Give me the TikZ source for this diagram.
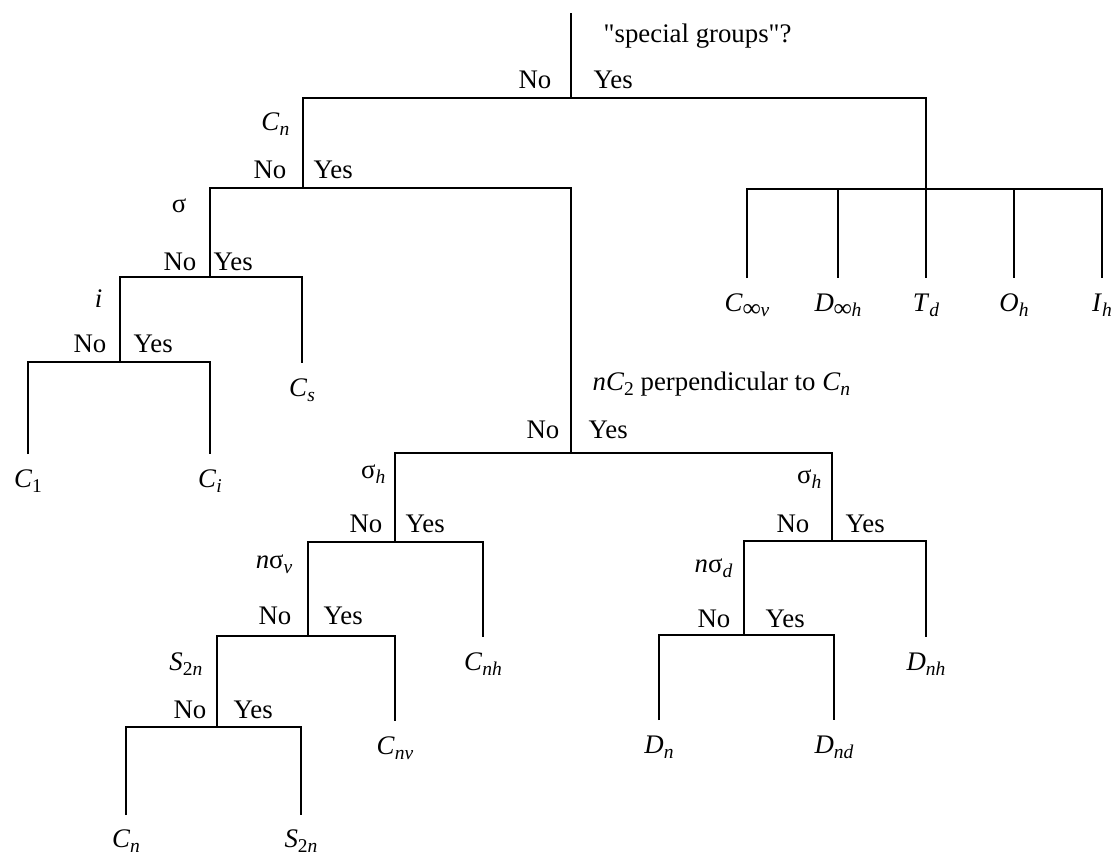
\documentclass[tikz,border=0pt]{standalone}
\usepackage{fontspec}
\setmainfont{Liberation Serif}[Ligatures=TeXOff]
\newcommand\subx[1]{\raisebox{-5pt}{\fontsize{19.5}{19.5}\selectfont #1}}
\newcommand\infsym{{\fontsize{25}{25}\selectfont\textbf{∞}}}
\begin{document}
\begin{tikzpicture}[x=1pt,y=-1pt,line width=1.4pt,line join=miter,
  font=\fontsize{26.8}{30}\selectfont,
  lbl/.style={inner sep=0pt,anchor=base},
  qlbl/.style={inner sep=0pt,anchor=base east},
  nolbl/.style={inner sep=0pt,anchor=base east},
  yeslbl/.style={inner sep=0pt,anchor=base west},
  textlbl/.style={inner sep=0pt,anchor=base west}]
\useasboundingbox (0,0) rectangle (1115,852);
% junction coordinates
\coordinate (top) at (571,13);
\coordinate (r) at (571,98);
\coordinate (rL) at (303,98);
\coordinate (rR) at (926,98);
\coordinate (cn) at (303,188);
\coordinate (cnL) at (210,188);
\coordinate (cnR) at (571,188);
\coordinate (sg) at (210,277);
\coordinate (sgL) at (120,277);
\coordinate (sgR) at (302,277);
\coordinate (eCs) at (302,363);
\coordinate (ii) at (120,362);
\coordinate (iiL) at (28,362);
\coordinate (iiR) at (210,362);
\coordinate (eC1) at (28,454);
\coordinate (eCi) at (210,454);
\coordinate (nc) at (571,453);
\coordinate (ncL) at (395,453);
\coordinate (ncR) at (832,453);
\coordinate (sh1) at (395,542);
\coordinate (sh1L) at (308,542);
\coordinate (sh1R) at (483,542);
\coordinate (eCnh) at (483,637);
\coordinate (nsv) at (308,636);
\coordinate (nsvL) at (217,636);
\coordinate (nsvR) at (395,636);
\coordinate (eCnv) at (395,721);
\coordinate (s2) at (217,727);
\coordinate (s2L) at (126,727);
\coordinate (s2R) at (301,727);
\coordinate (eCn) at (126,815);
\coordinate (eS2n) at (301,815);
\coordinate (sh2) at (832,541);
\coordinate (sh2L) at (744,541);
\coordinate (sh2R) at (926,541);
\coordinate (eDnh) at (926,637);
\coordinate (nsd) at (744,635);
\coordinate (nsdL) at (659,635);
\coordinate (nsdR) at (834,635);
\coordinate (eDn) at (659,720);
\coordinate (eDnd) at (834,720);
\coordinate (sp) at (926,189);
\coordinate (spA) at (747,189);
\coordinate (spB) at (838,189);
\coordinate (spD) at (1014,189);
\coordinate (spE) at (1102,189);
\coordinate (eA) at (747,278);
\coordinate (eB) at (838,278);
\coordinate (eC) at (926,278);
\coordinate (eD) at (1014,278);
\coordinate (eE) at (1102,278);
% connectors
\draw (top) -- (r);
\draw (cn) -- (rL) -- (rR) -- (sp);
\draw (sg) -- (cnL) -- (cnR) -- (nc);
\draw (ii) -- (sgL) -- (sgR) -- (eCs);
\draw (eC1) -- (iiL) -- (iiR) -- (eCi);
\draw (sh1) -- (ncL) -- (ncR) -- (sh2);
\draw (nsv) -- (sh1L) -- (sh1R) -- (eCnh);
\draw (s2) -- (nsvL) -- (nsvR) -- (eCnv);
\draw (eCn) -- (s2L) -- (s2R) -- (eS2n);
\draw (nsd) -- (sh2L) -- (sh2R) -- (eDnh);
\draw (eDn) -- (nsdL) -- (nsdR) -- (eDnd);
\draw (eA) -- (spA) -- (spE) -- (eE);
\draw (spB) -- (eB);
\draw (sp) -- (eC);
\draw (spD) -- (eD);
% question labels
\node[textlbl] (qsg) at (603,42) {"special groups"?};
\node[qlbl] (qcn) at (290,130) {\textit{C}\subx{\textit{n}}};
\node[qlbl] (qsig) at (187,212) {σ};
\node[qlbl] (qi) at (103,307) {\textit{i}};
\node[textlbl] (qnc) at (592,390) {\textit{nC}\subx{2} perpendicular to \textit{C}\subx{\textit{n}}};
\node[qlbl] (qsh1) at (386,478) {σ\subx{\textit{h}}};
\node[qlbl] (qnsv) at (293,568) {\textit{n}σ\subx{\textit{v}}};
\node[qlbl] (qs2) at (203,670) {\textit{S}\subx{2\textit{n}}};
\node[qlbl] (qsh2) at (822,483) {σ\subx{\textit{h}}};
\node[qlbl] (qnsd) at (733,572) {\textit{n}σ\subx{\textit{d}}};
% No / Yes labels
\node[nolbl] (n1) at (552,88) {No};   \node[yeslbl] (y1) at (593,88) {Yes};
\node[nolbl] (n2) at (287,178) {No};  \node[yeslbl] (y2) at (313,178) {Yes};
\node[nolbl] (n3) at (197,270) {No};  \node[yeslbl] (y3) at (213,270) {Yes};
\node[nolbl] (n4) at (107,352) {No};  \node[yeslbl] (y4) at (133,352) {Yes};
\node[nolbl] (n5) at (560,438) {No};  \node[yeslbl] (y5) at (588,438) {Yes};
\node[nolbl] (n6) at (383,532) {No};  \node[yeslbl] (y6) at (405,532) {Yes};
\node[nolbl] (n7) at (292,624) {No};  \node[yeslbl] (y7) at (323,624) {Yes};
\node[nolbl] (n8) at (207,718) {No};  \node[yeslbl] (y8) at (233,718) {Yes};
\node[nolbl] (n9) at (810,532) {No};  \node[yeslbl] (y9) at (845,532) {Yes};
\node[nolbl] (n10) at (731,627) {No}; \node[yeslbl] (y10) at (765,627) {Yes};
% leaf labels
\node[lbl] (C1) at (28,487) {\textit{C}\subx{1}};
\node[lbl] (Ci) at (210,487) {\textit{C}\subx{\textit{i}}};
\node[lbl] (Cs) at (302,396) {\textit{C}\subx{\textit{s}}};
\node[lbl] (Cnh) at (483,670) {\textit{C}\subx{\textit{nh}}};
\node[lbl] (Cnv) at (395,754) {\textit{C}\subx{\textit{nv}}};
\node[lbl] (Cn) at (126,847) {\textit{C}\subx{\textit{n}}};
\node[lbl] (S2n) at (301,847) {\textit{S}\subx{2\textit{n}}};
\node[lbl] (Dnh) at (926,670) {\textit{D}\subx{\textit{nh}}};
\node[lbl] (Dn) at (659,753) {\textit{D}\subx{\textit{n}}};
\node[lbl] (Dnd) at (834,753) {\textit{D}\subx{\textit{nd}}};
\node[lbl] (Cinfv) at (747,311) {\textit{C}\subx{\infsym\textit{v}}};
\node[lbl] (Dinfh) at (838,311) {\textit{D}\subx{\infsym\textit{h}}};
\node[lbl] (Td) at (926,311) {\textit{T}\subx{\textit{d}}};
\node[lbl] (Oh) at (1014,311) {\textit{O}\subx{\textit{h}}};
\node[lbl] (Ih) at (1102,311) {\textit{I}\subx{\textit{h}}};
\end{tikzpicture}
\end{document}
